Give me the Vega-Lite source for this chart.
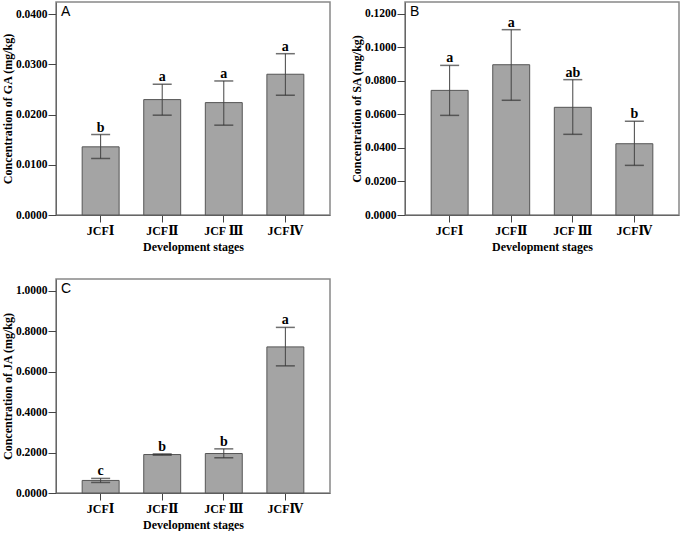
{
  "$schema": "https://vega.github.io/schema/vega-lite/v6.json",
  "padding": {"left": 0, "top": 1, "right": 0, "bottom": 0},
  "background": "white",
  "columns": 2,
  "spacing": {"row": 25, "column": 18},
  "config": {
    "view": {"stroke": "#888888", "strokeWidth": 1.5},
    "axis": {
      "labelFont": "Liberation Serif, DejaVu Serif", "labelFontWeight": "bold", "labelFontSize": 11.5, "labelColor": "#000000",
      "titleFont": "Liberation Serif", "titleFontWeight": "bold", "titleFontSize": 12, "titleColor": "#000000",
      "domainColor": "#666666", "tickColor": "#444444", "grid": false, "labelOverlap": false
    },
    "axisX": {"labelAngle": 0, "labelFontSize": 12, "tickSize": 7, "labelPadding": 3, "titlePadding": 5},
    "axisY": {"tickSize": 8, "labelPadding": 1, "titlePadding": 1, "format": ".4f"},
    "title": {"font": "Liberation Sans", "fontWeight": "normal", "fontSize": 14, "color": "#000000", "anchor": "start", "frame": "group", "offset": -17, "dx": 5}
  },
  "concat": [
    {
      "width": 274, "height": 213,
      "title": {"text": "A"},
      "data": {"values": [
        {"stage": "JCFⅠ", "value": 0.01357, "lo": 0.01125, "hi": 0.01602, "letter": "b"},
        {"stage": "JCFⅡ", "value": 0.02297, "lo": 0.01987, "hi": 0.02603, "letter": "a"},
        {"stage": "JCF Ⅲ", "value": 0.02237, "lo": 0.01788, "hi": 0.02668, "letter": "a"},
        {"stage": "JCFⅣ", "value": 0.02802, "lo": 0.02384, "hi": 0.03211, "letter": "a"}
      ]},
      "encoding": {"x": {"field": "stage", "type": "nominal", "sort": null, "scale": {"paddingInner": 0.4, "paddingOuter": 0.425}, "axis": {"title": "Development stages"}}},
      "layer": [
        {"mark": {"type": "bar", "fill": "#a4a4a4", "stroke": "#555555", "strokeWidth": 1},
         "encoding": {"y": {"field": "value", "type": "quantitative", "title": "Concentration of GA (mg/kg)", "scale": {"domain": [0, 0.0424], "nice": false}, "axis": {"values": [0, 0.01, 0.02, 0.03, 0.04]}}}},
        {"mark": {"type": "rule", "color": "#444444", "strokeWidth": 1},
         "encoding": {"y": {"field": "lo", "type": "quantitative", "title": "Concentration of GA (mg/kg)", "axis": {"values": [0, 0.01, 0.02, 0.03, 0.04]}}, "y2": {"field": "hi"}}},
        {"mark": {"type": "tick", "color": "#333333", "size": 19, "thickness": 1.5},
         "encoding": {"y": {"field": "hi", "type": "quantitative", "title": "Concentration of GA (mg/kg)", "axis": {"values": [0, 0.01, 0.02, 0.03, 0.04]}}}},
        {"mark": {"type": "tick", "color": "#333333", "size": 19, "thickness": 1.5},
         "encoding": {"y": {"field": "lo", "type": "quantitative", "title": "Concentration of GA (mg/kg)", "axis": {"values": [0, 0.01, 0.02, 0.03, 0.04]}}}},
        {"mark": {"type": "text", "dy": -3, "baseline": "alphabetic", "font": "Liberation Serif", "fontWeight": "bold", "fontSize": 14, "color": "#000000"},
         "encoding": {"y": {"field": "hi", "type": "quantitative", "title": "Concentration of GA (mg/kg)", "axis": {"values": [0, 0.01, 0.02, 0.03, 0.04]}}, "text": {"field": "letter"}}}
      ]
    },
    {
      "width": 274, "height": 213,
      "title": {"text": "B"},
      "data": {"values": [
        {"stage": "JCFⅠ", "value": 0.0743, "lo": 0.0594, "hi": 0.0892, "letter": "a"},
        {"stage": "JCFⅡ", "value": 0.0896, "lo": 0.0684, "hi": 0.1105, "letter": "a"},
        {"stage": "JCF Ⅲ", "value": 0.0642, "lo": 0.0481, "hi": 0.0807, "letter": "ab"},
        {"stage": "JCFⅣ", "value": 0.0425, "lo": 0.0296, "hi": 0.0559, "letter": "b"}
      ]},
      "encoding": {"x": {"field": "stage", "type": "nominal", "sort": null, "scale": {"paddingInner": 0.4, "paddingOuter": 0.425}, "axis": {"title": "Development stages"}}},
      "layer": [
        {"mark": {"type": "bar", "fill": "#a4a4a4", "stroke": "#555555", "strokeWidth": 1},
         "encoding": {"y": {"field": "value", "type": "quantitative", "title": "Concentration of SA (mg/kg)", "scale": {"domain": [0, 0.127], "nice": false}, "axis": {"values": [0, 0.02, 0.04, 0.06, 0.08, 0.1, 0.12]}}}},
        {"mark": {"type": "rule", "color": "#444444", "strokeWidth": 1},
         "encoding": {"y": {"field": "lo", "type": "quantitative", "title": "Concentration of SA (mg/kg)", "axis": {"values": [0, 0.02, 0.04, 0.06, 0.08, 0.1, 0.12]}}, "y2": {"field": "hi"}}},
        {"mark": {"type": "tick", "color": "#333333", "size": 19, "thickness": 1.5},
         "encoding": {"y": {"field": "hi", "type": "quantitative", "title": "Concentration of SA (mg/kg)", "axis": {"values": [0, 0.02, 0.04, 0.06, 0.08, 0.1, 0.12]}}}},
        {"mark": {"type": "tick", "color": "#333333", "size": 19, "thickness": 1.5},
         "encoding": {"y": {"field": "lo", "type": "quantitative", "title": "Concentration of SA (mg/kg)", "axis": {"values": [0, 0.02, 0.04, 0.06, 0.08, 0.1, 0.12]}}}},
        {"mark": {"type": "text", "dy": -3, "baseline": "alphabetic", "font": "Liberation Serif", "fontWeight": "bold", "fontSize": 14, "color": "#000000"},
         "encoding": {"y": {"field": "hi", "type": "quantitative", "title": "Concentration of SA (mg/kg)", "axis": {"values": [0, 0.02, 0.04, 0.06, 0.08, 0.1, 0.12]}}, "text": {"field": "letter"}}}
      ]
    },
    {
      "width": 274, "height": 214,
      "title": {"text": "C"},
      "data": {"values": [
        {"stage": "JCFⅠ", "value": 0.062, "lo": 0.052, "hi": 0.072, "letter": "c"},
        {"stage": "JCFⅡ", "value": 0.19, "lo": 0.187, "hi": 0.193, "letter": "b"},
        {"stage": "JCF Ⅲ", "value": 0.195, "lo": 0.174, "hi": 0.218, "letter": "b"},
        {"stage": "JCFⅣ", "value": 0.7216, "lo": 0.628, "hi": 0.818, "letter": "a"}
      ]},
      "encoding": {"x": {"field": "stage", "type": "nominal", "sort": null, "scale": {"paddingInner": 0.4, "paddingOuter": 0.425}, "axis": {"title": "Development stages"}}},
      "layer": [
        {"mark": {"type": "bar", "fill": "#a4a4a4", "stroke": "#555555", "strokeWidth": 1},
         "encoding": {"y": {"field": "value", "type": "quantitative", "title": "Concentration of JA (mg/kg)", "scale": {"domain": [0, 1.057], "nice": false}, "axis": {"values": [0, 0.2, 0.4, 0.6, 0.8, 1.0]}}}},
        {"mark": {"type": "rule", "color": "#444444", "strokeWidth": 1},
         "encoding": {"y": {"field": "lo", "type": "quantitative", "title": "Concentration of JA (mg/kg)", "axis": {"values": [0, 0.2, 0.4, 0.6, 0.8, 1.0]}}, "y2": {"field": "hi"}}},
        {"mark": {"type": "tick", "color": "#333333", "size": 19, "thickness": 1.5},
         "encoding": {"y": {"field": "hi", "type": "quantitative", "title": "Concentration of JA (mg/kg)", "axis": {"values": [0, 0.2, 0.4, 0.6, 0.8, 1.0]}}}},
        {"mark": {"type": "tick", "color": "#333333", "size": 19, "thickness": 1.5},
         "encoding": {"y": {"field": "lo", "type": "quantitative", "title": "Concentration of JA (mg/kg)", "axis": {"values": [0, 0.2, 0.4, 0.6, 0.8, 1.0]}}}},
        {"mark": {"type": "text", "dy": -3, "baseline": "alphabetic", "font": "Liberation Serif", "fontWeight": "bold", "fontSize": 14, "color": "#000000"},
         "encoding": {"y": {"field": "hi", "type": "quantitative", "title": "Concentration of JA (mg/kg)", "axis": {"values": [0, 0.2, 0.4, 0.6, 0.8, 1.0]}}, "text": {"field": "letter"}}}
      ]
    }
  ]
}
